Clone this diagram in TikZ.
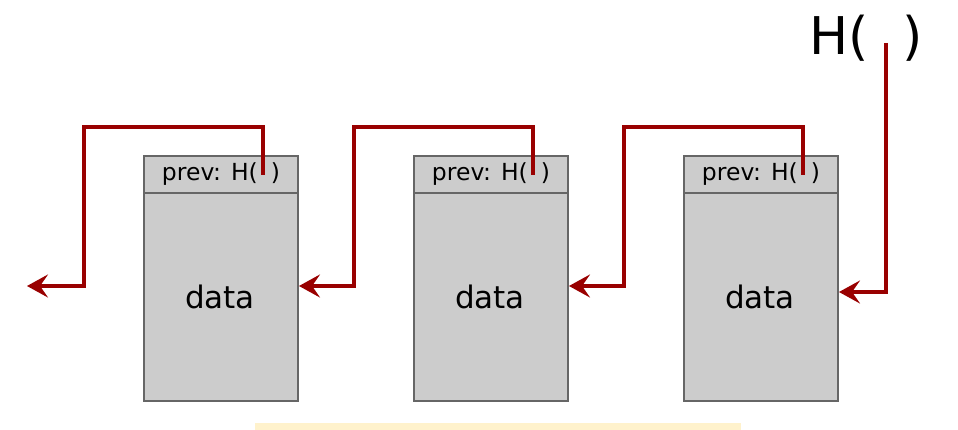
\documentclass[tikz,border=0pt]{standalone}
\usepackage{fontspec}
\setmainfont{DejaVu Sans}
\usetikzlibrary{arrows.meta}
\definecolor{linkred}{HTML}{990000}
\definecolor{boxgray}{HTML}{CCCCCC}
\definecolor{edgegray}{HTML}{666666}
\definecolor{barcol}{HTML}{FFF2CC}
\begin{document}
\begin{tikzpicture}[x=1pt,y=-1pt,
 blockbox/.style={draw=edgegray, fill=boxgray, line width=2pt, minimum width=154pt, minimum height=245pt, inner sep=0pt, anchor=north west},
 headbox/.style={draw=edgegray, fill=boxgray, line width=2pt, minimum width=154pt, minimum height=37pt, inner sep=0pt, anchor=north west, font=\fontsize{23.5}{23.5}\selectfont},
 datatext/.style={font=\fontsize{31}{31}\selectfont, inner sep=0pt},
 link/.style={draw=linkred, line width=3.8pt, line join=miter, -{Stealth[length=21pt,width=23pt,inset=8pt]}},
]
\useasboundingbox (0,0) rectangle (958,430);
\fill[barcol] (255,423) rectangle (741,430);
% blocks
\foreach \i/\x in {1/143,2/413,3/683}{
  \node[blockbox] (b\i) at (\x,155) {};
  \node[headbox] (h\i) at (\x,155) {prev: H(\hspace{13pt})};
  \node[datatext] (d\i) at (\x+77,297) {data};
  \coordinate (p\i) at (\x+120,175);
  \coordinate (t\i) at (\x+120,127);
  \coordinate (u\i) at (\x-59,127);
  \coordinate (v\i) at (\x-59,286);
}
\coordinate (e0) at (27,286);
\node[font=\fontsize{52}{52}\selectfont, inner sep=0pt] (top) at (866,38) {H(\hspace{33pt})};
\coordinate (q) at (886,43);
\coordinate (r) at (886,292);
% links
\draw[link] (p1) -- (t1) -- (u1) -- (v1) -- (e0);
\draw[link] (p2) -- (t2) -- (u2) -- (v2) -- (b1.east |- v2);
\draw[link] (p3) -- (t3) -- (u3) -- (v3) -- (b2.east |- v3);
\draw[link] (q) -- (r) -- (b3.east |- r);
\end{tikzpicture}
\end{document}
